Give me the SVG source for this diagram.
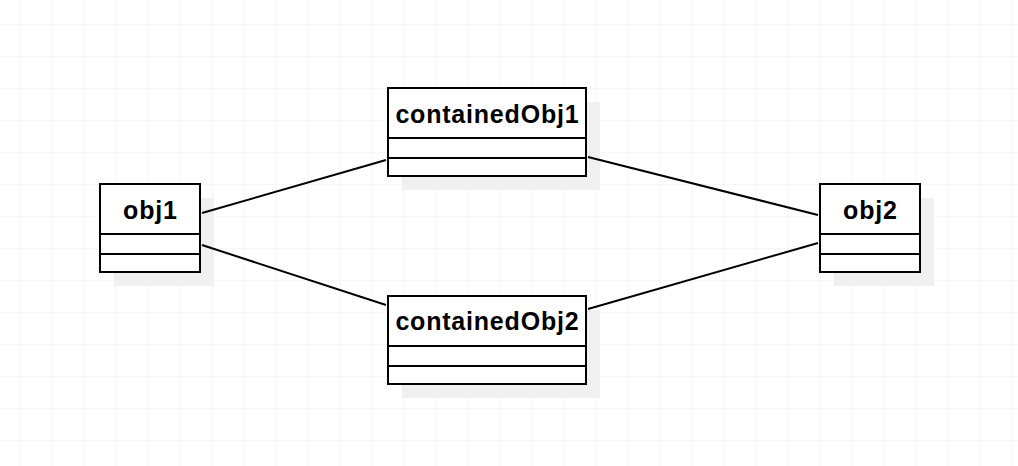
<svg xmlns="http://www.w3.org/2000/svg" width="1018" height="466" viewBox="0 0 1018 466">
<defs>
<pattern id="grid" x="20" y="24" width="32" height="32" patternUnits="userSpaceOnUse">
<path d="M0 0H32M0 0V32" fill="none" stroke="#efefef" stroke-width="1"/>
</pattern>
</defs>
<style>
.shadow{fill:#f0f0f0;stroke:none}
.box{fill:#ffffff;stroke:#000000;stroke-width:2}
.div{stroke:#000000;stroke-width:2}
.label{font-family:"Liberation Sans",Arial,sans-serif;font-weight:bold;font-size:25px;letter-spacing:0.8px;fill:#000000;text-anchor:middle}
.conn{stroke:#000000;stroke-width:2;fill:none}
</style>
<rect x="0" y="0" width="1018" height="466" fill="#ffffff"/>
<rect x="0" y="0" width="1018" height="466" fill="url(#grid)"/>
<g id="obj1">
<rect class="shadow" x="114" y="198" width="100" height="88"/>
<rect class="box" x="100" y="184" width="100" height="88"/>
<line class="div" x1="100" y1="234" x2="200" y2="234"/>
<line class="div" x1="100" y1="254" x2="200" y2="254"/>
<text class="label" x="150.4" y="218.5">obj1</text>
</g>
<g id="containedObj1">
<rect class="shadow" x="402" y="102" width="198" height="88"/>
<rect class="box" x="388" y="88" width="198" height="88"/>
<line class="div" x1="388" y1="138" x2="586" y2="138"/>
<line class="div" x1="388" y1="158" x2="586" y2="158"/>
<text class="label" x="487.4" y="122.5">containedObj1</text>
</g>
<g id="containedObj2">
<rect class="shadow" x="402" y="310" width="198" height="88"/>
<rect class="box" x="388" y="296" width="198" height="88"/>
<line class="div" x1="388" y1="346" x2="586" y2="346"/>
<line class="div" x1="388" y1="366" x2="586" y2="366"/>
<text class="label" x="487.4" y="330">containedObj2</text>
</g>
<g id="obj2">
<rect class="shadow" x="834" y="198" width="100" height="88"/>
<rect class="box" x="820" y="184" width="100" height="88"/>
<line class="div" x1="820" y1="234" x2="920" y2="234"/>
<line class="div" x1="820" y1="254" x2="920" y2="254"/>
<text class="label" x="870.4" y="218.5">obj2</text>
</g>
<g id="connectors">
<line class="conn" x1="202" y1="213" x2="386" y2="160"/>
<line class="conn" x1="202" y1="245" x2="386" y2="305"/>
<line class="conn" x1="588" y1="157" x2="818" y2="215"/>
<line class="conn" x1="588" y1="309" x2="818" y2="243"/>
</g>
</svg>
